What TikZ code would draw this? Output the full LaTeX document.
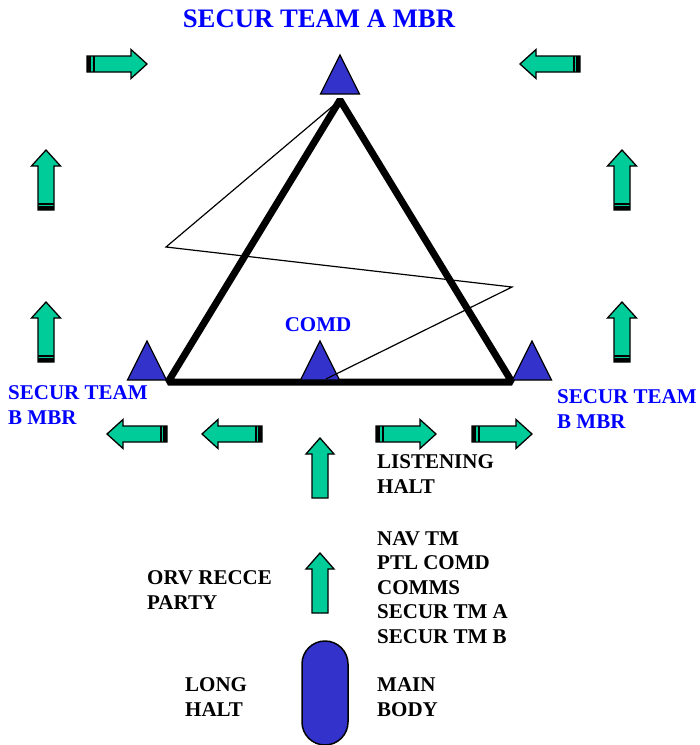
\documentclass[tikz,border=0pt]{standalone}
\usepackage{fontspec}
\setmainfont{Liberation Serif}
\definecolor{mbrblue}{HTML}{3333CC}
\definecolor{arrgreen}{HTML}{00CC99}
\definecolor{lblblue}{HTML}{0000FF}
\tikzset{
  arrowbody/.style={draw=black,fill=arrgreen,line width=1.3pt,line join=miter},
  tailarrow/.pic={
    \draw[arrowbody] (0,-8) -- (44,-8) -- (44,-14.5) -- (60,0) -- (44,14.5) -- (44,8) -- (0,8) -- cycle;
    \fill[black] (0,-8) rectangle (4,8);
    \fill[black] (5.5,-8) rectangle (7.5,8);
  },
  plainarrow/.pic={
    \draw[arrowbody] (0,-8) -- (44,-8) -- (44,-14) -- (60,0) -- (44,14) -- (44,8) -- (0,8) -- cycle;
  },
  mbr/.pic={
    \draw[fill=mbrblue,line width=1.3pt,line join=miter] (-19.5,0) -- (0,-39) -- (19.5,0) -- cycle;
  },
  lbl/.style={font=\bfseries\fontsize{21}{24.5}\selectfont,inner sep=0pt,align=left,anchor=base west}
}
\begin{document}
\begin{tikzpicture}
  [x=1pt,y=-1pt]
  \useasboundingbox (0,0) rectangle (700,745);

  \coordinate (apex) at (340,100);
  \coordinate (lcorner) at (168,382);
  \coordinate (rcorner) at (512,382);
  \coordinate (zz1) at (166,247);
  \coordinate (zz2) at (512,287);
  \coordinate (zz3) at (326,379);

  \draw[line width=7pt,line join=bevel] (apex) -- (lcorner) -- (rcorner) -- cycle;

  \foreach \name/\px/\py in {tria/340/94,trib/147/380,tric/320/380,trid/532/380}
    \pic (\name) at (\px,\py) {mbr};

  \draw[line width=1.2pt] (apex) -- (zz1) -- (zz2) -- (zz3);

  \foreach \px/\py/\rot in {87/64/0,580/64/180,46/210/90,46/362/90,622/210/90,622/362/90,
  167/434/180,262/434/180,376/434/0,472/434/0}
    \pic[rotate=\rot] at (\px,\py) {tailarrow};
  \pic[rotate=90] at (320,498) {plainarrow};
  \pic[rotate=90] at (320,613) {plainarrow};

  \node (mainbody) [draw,line width=1.5pt,fill=mbrblue,rounded corners=23pt,
    minimum width=46pt,minimum height=104pt,inner sep=0pt] at (325,693) {};

  % texts: base west sits on the last line
  \node (title) [font=\bfseries\fontsize{26.7}{30}\selectfont,text=lblblue,inner sep=0pt,anchor=base]
    at (319,27) {SECUR TEAM A MBR};
  \node (comd) [lbl,text=lblblue,anchor=base] at (318,331) {COMD};
  \node (bleft) [lbl,text=lblblue] at (8,424) {SECUR TEAM\\B MBR};
  \node (bright) [lbl,text=lblblue] at (557,428) {SECUR TEAM\\B MBR};
  \node (listen) [lbl] at (377,493) {LISTENING\\HALT};
  \node (order) [lbl] at (377,643) {NAV TM\\PTL COMD\\COMMS\\SECUR TM A\\SECUR TM B};
  \node (orv) [lbl] at (147,609) {ORV RECCE\\PARTY};
  \node (longhalt) [lbl] at (185,716) {LONG\\HALT};
  \node (main) [lbl] at (377,716) {MAIN\\BODY};
\end{tikzpicture}
\end{document}
